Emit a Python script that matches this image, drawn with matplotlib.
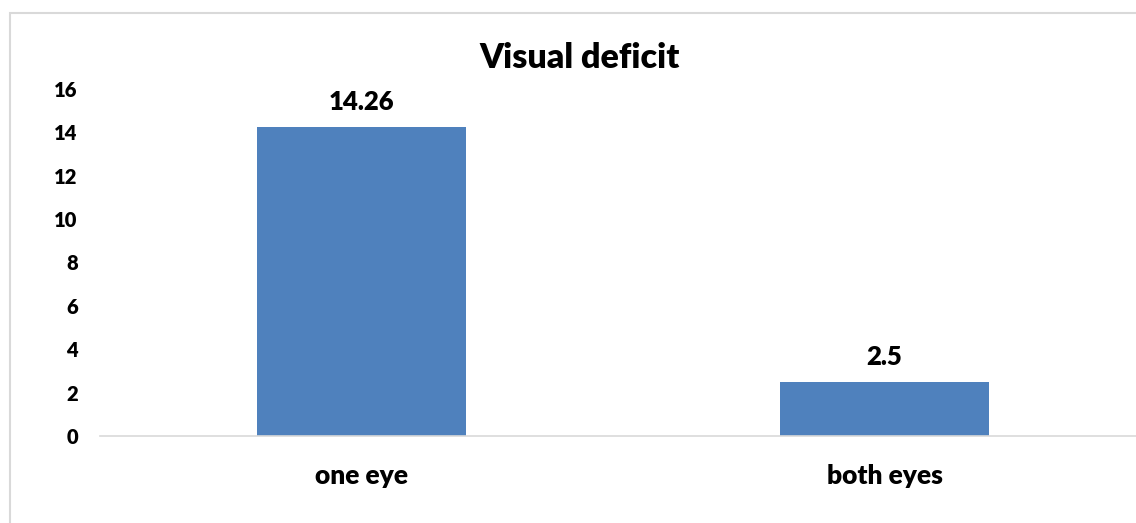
import matplotlib.pyplot as plt
from matplotlib.patches import Rectangle

categories = ["one eye", "both eyes"]
values = [14.26, 2.5]
yticks = [0, 2, 4, 6, 8, 10, 12, 14, 16]

plt.rcParams["font.family"] = ["Lato", "DejaVu Sans"]

fig = plt.figure(figsize=(11.36, 5.23), dpi=100)

# chart frame
fig.patches.append(Rectangle((10 / 1136, -0.1), 1.2, (523 - 13) / 523 + 0.1,
                             transform=fig.transFigure, fill=False,
                             edgecolor="#d9d9d9", linewidth=1.5))

# axes spans 100..1146 px horizontally, 436..89 px for 0..16
ax = fig.add_axes([100 / 1136, (523 - 436) / 523, 1046 / 1136, (436 - 89) / 523])
x = range(len(categories))
ax.bar(x, values, width=0.4, color="#4f81bd", zorder=2)
for xi, v in zip(x, values):
    ax.annotate(f"{v:g}", (xi, v), xytext=(0, 9), textcoords="offset points",
                ha="center", va="bottom", fontsize=18.5, fontweight="heavy")

ax.set_xlim(-0.5, 1.5)
ax.set_ylim(0, 16)
ax.set_yticks(yticks)
ax.set_xticks(list(x))
ax.set_xticklabels(categories, fontsize=19, fontweight="heavy")
ax.set_yticklabels([str(t) for t in yticks], fontsize=14.5, fontweight="heavy")
ax.tick_params(axis="y", length=0, pad=16)
ax.tick_params(axis="x", length=0, pad=20)
for side in ["top", "right", "left"]:
    ax.spines[side].set_visible(False)
ax.spines["bottom"].set_color("#d9d9d9")
ax.spines["bottom"].set_linewidth(1.2)

fig.text(580 / 1136, 1 - 58 / 523, "Visual deficit", ha="center", va="center",
         fontsize=24.5, fontweight="heavy")

fig.savefig("out.png", dpi=100)
